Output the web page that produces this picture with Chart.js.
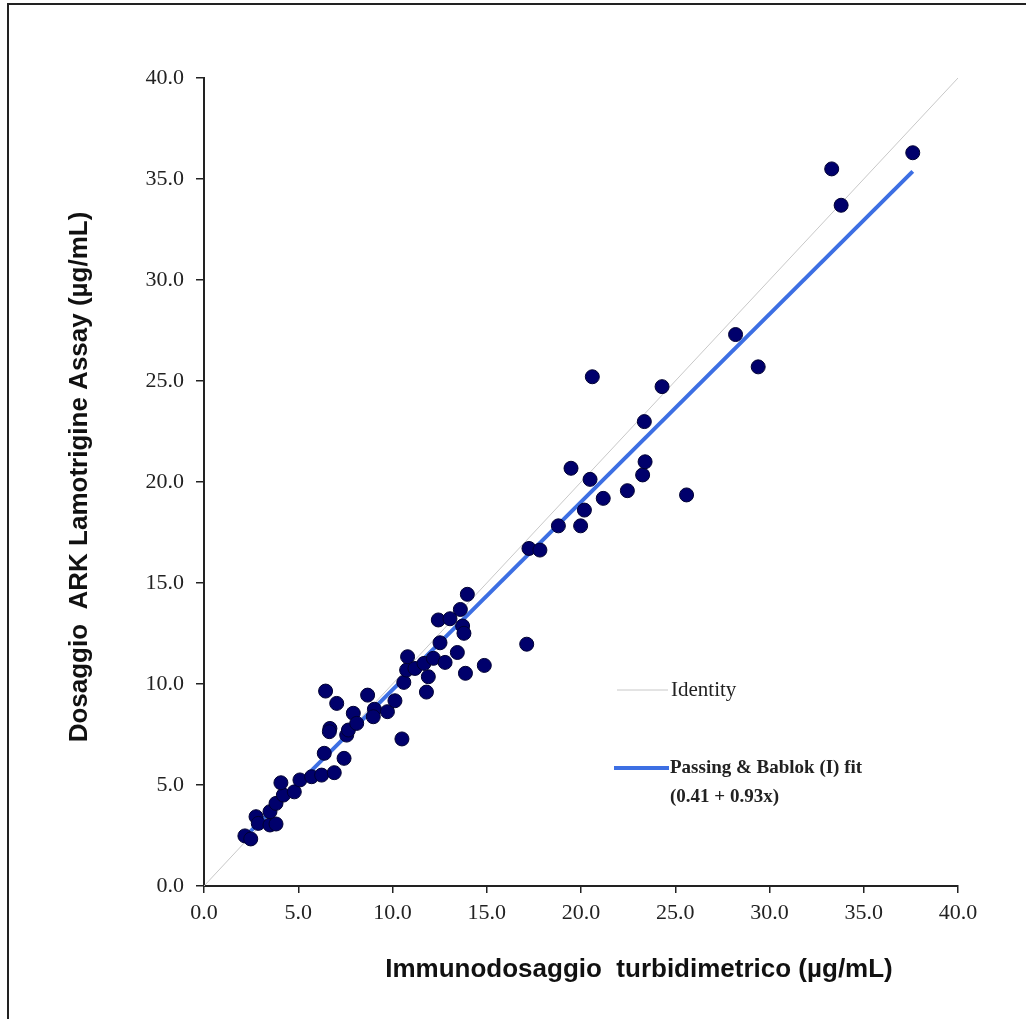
<!DOCTYPE html>
<html lang="it">
<head>
    <meta charset="UTF-8">
    <title>Dosaggio ARK Lamotrigine vs Immunodosaggio turbidimetrico</title>
    <script src="https://cdn.jsdelivr.net/npm/chart.js"></script>
    <style>
        html, body { margin: 0; padding: 0; background: #fff; }
        .wrap { position: relative; width: 1026px; height: 1019px; }
        .frame {
            position: absolute; left: 7px; top: 3px; right: 0; bottom: 0;
            border-left: 2px solid #222; border-top: 2px solid #222;
        }
        canvas { position: absolute; left: 0; top: 0; }
    </style>
</head>
<body>
<div class="wrap">
    <div class="frame"></div>
    <canvas id="pbChart" width="1026" height="1019"></canvas>
</div>

<script>
    // turbidimetric immunoassay (x) vs ARK assay (y), ug/mL
    const turbidX = [
        2.17, 2.48, 2.76, 2.88, 3.50, 3.82, 3.50, 3.82, 4.21, 4.08,
        4.79, 5.09, 5.71, 6.24, 6.91, 6.38, 7.43, 6.68, 6.65, 6.45,
        7.04, 7.57, 7.66, 7.92, 8.10, 8.68, 9.04, 8.98, 9.73, 10.13,
        10.50, 10.60, 11.90, 11.80, 10.75, 10.80, 11.19, 11.67, 12.17, 12.79,
        12.52, 13.44, 13.87, 14.87, 12.43, 13.05, 13.60, 13.72, 13.79, 13.97,
        17.12, 17.24, 17.82, 18.80, 19.98, 20.18, 19.47, 20.48, 21.18, 22.46,
        23.27, 23.40, 23.36, 20.60, 24.30, 25.60, 28.20, 29.40, 33.30, 33.80,
        37.60
    ];
    const arkY = [
        2.48, 2.33, 3.43, 3.10, 3.02, 3.07, 3.68, 4.09, 4.50, 5.11,
        4.66, 5.25, 5.41, 5.49, 5.61, 6.57, 6.32, 7.80, 7.64, 9.65,
        9.04, 7.47, 7.72, 8.55, 8.05, 9.45, 8.75, 8.38, 8.63, 9.17,
        7.28, 10.08, 10.36, 9.60, 10.69, 11.35, 10.77, 11.02, 11.27, 11.07,
        12.04, 11.56, 10.53, 10.92, 13.17, 13.23, 13.69, 12.87, 12.51, 14.44,
        11.97, 16.71, 16.63, 17.83, 17.83, 18.61, 20.68, 20.13, 19.19, 19.57,
        20.35, 21.00, 22.99, 25.21, 24.72, 19.36, 27.30, 25.70, 35.50, 33.70,
        36.30
    ];

    // Passing & Bablok fit: y = 0.41 + 0.93x, drawn over the data range
    const fitIntercept = 0.41;
    const fitSlope = 0.93;
    const fitRangeX = [2.17, 37.6];
    const identityRange = [0, 40];

    const axisTicks = [0, 5, 10, 15, 20, 25, 30, 35, 40];

    const xTitle = 'Immunodosaggio  turbidimetrico (µg/mL)';
    const yTitle = 'Dosaggio  ARK Lamotrigine Assay (µg/mL)';

    const points = turbidX.map((x, i) => ({ x: x, y: arkY[i] }));
    const fitLine = fitRangeX.map(x => ({ x: x, y: fitIntercept + fitSlope * x }));
    const identityLine = identityRange.map(v => ({ x: v, y: v }));

    const tickFont = { family: 'Liberation Serif', size: 22 };

    // axis titles + the small legend inside the plot
    const labelsPlugin = {
        id: 'pbLabels',
        afterDatasetsDraw(chart) {
            const ctx = chart.ctx;
            ctx.save();
            ctx.textBaseline = 'middle';
            ctx.fillStyle = '#222';

            ctx.strokeStyle = '#c8c8c8';
            ctx.lineWidth = 1;
            ctx.beginPath();
            ctx.moveTo(617, 690);
            ctx.lineTo(668, 690);
            ctx.stroke();
            ctx.font = '21px "Liberation Serif"';
            ctx.fillText('Identity', 671, 690);

            ctx.strokeStyle = '#3d6fe3';
            ctx.lineWidth = 4;
            ctx.beginPath();
            ctx.moveTo(614, 768);
            ctx.lineTo(669, 768);
            ctx.stroke();
            ctx.font = 'bold 19px "Liberation Serif"';
            ctx.fillText('Passing & Bablok (I) fit', 670, 768);
            ctx.fillText('(0.41 + 0.93x)', 670, 797);

            ctx.fillStyle = '#111';
            ctx.font = 'bold 26px "Liberation Sans"';
            ctx.textAlign = 'center';
            ctx.fillText(xTitle, 639, 970);
            ctx.translate(80, 477);
            ctx.rotate(-Math.PI / 2);
            ctx.fillText(yTitle, 0, 0);
            ctx.restore();
        }
    };

    const chartConfig = {
        type: 'scatter',
        data: {
            datasets: [
                {
                    label: 'Campioni',
                    data: points,
                    backgroundColor: '#00006c',
                    borderColor: '#000033',
                    borderWidth: 1,
                    pointRadius: 7,
                    order: 1
                },
                {
                    type: 'line',
                    label: 'Passing & Bablok (I) fit',
                    data: fitLine,
                    borderColor: '#3d6fe3',
                    borderWidth: 4,
                    pointRadius: 0,
                    order: 2
                },
                {
                    type: 'line',
                    label: 'Identity',
                    data: identityLine,
                    borderColor: '#c8c8c8',
                    borderWidth: 1,
                    pointRadius: 0,
                    order: 3
                }
            ]
        },
        options: {
            responsive: false,
            animation: false,
            layout: { padding: { top: 78, right: 68, left: 0, bottom: 0 } },
            plugins: {
                legend: { display: false },
                tooltip: { enabled: false }
            },
            scales: {
                x: {
                    type: 'linear',
                    min: 0,
                    max: 40,
                    afterBuildTicks: scale => { scale.ticks = axisTicks.map(v => ({ value: v })); },
                    afterFit: scale => { scale.height = 133; },
                    ticks: {
                        callback: v => v.toFixed(1),
                        font: tickFont,
                        color: '#222',
                        padding: 7,
                        maxRotation: 0
                    },
                    grid: { drawOnChartArea: false, tickLength: 7, color: '#222', lineWidth: 1.5 },
                    border: { color: '#222', width: 2 }
                },
                y: {
                    type: 'linear',
                    min: 0,
                    max: 40,
                    afterBuildTicks: scale => { scale.ticks = axisTicks.map(v => ({ value: v })); },
                    afterFit: scale => { scale.width = 204; },
                    ticks: {
                        callback: v => v.toFixed(1),
                        font: tickFont,
                        color: '#222',
                        padding: 12
                    },
                    grid: { drawOnChartArea: false, tickLength: 8, color: '#222', lineWidth: 1.5 },
                    border: { color: '#222', width: 2 }
                }
            }
        },
        plugins: [labelsPlugin]
    };

    const pbChartCanvas = document.getElementById('pbChart');
    const pbChart = new Chart(pbChartCanvas.getContext('2d'), chartConfig);
</script>
</body>
</html>
